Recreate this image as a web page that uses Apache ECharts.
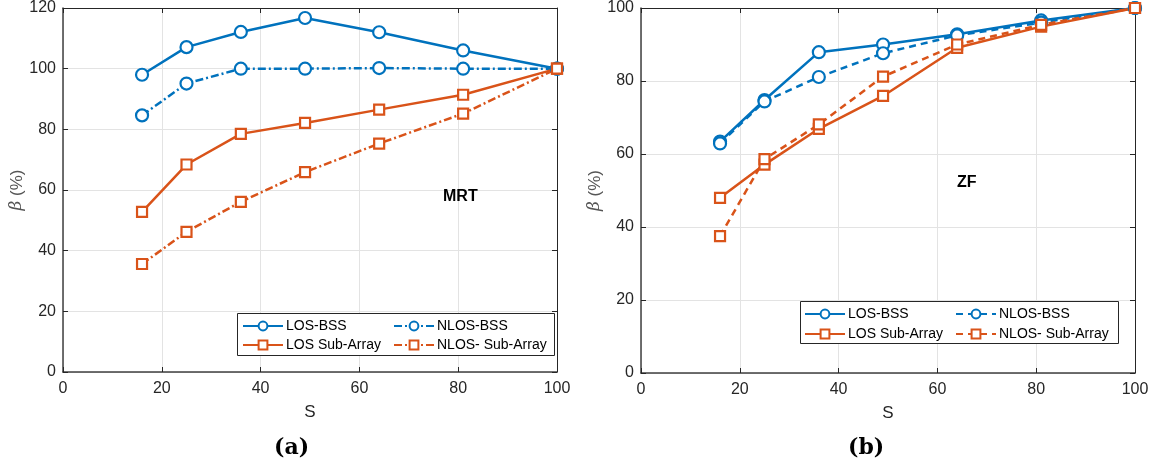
<!DOCTYPE html>
<html><head><meta charset="utf-8">
<script src="https://cdn.jsdelivr.net/npm/echarts@6/dist/echarts.min.js"></script>
<style>html,body{margin:0;padding:0;background:#fff}#c{width:1154px;height:468px}</style>
</head><body><div id="c"></div>
<script>
const S = [16, 25, 36, 49, 64, 81, 100];
const seriesNames = ['LOS-BSS', 'NLOS-BSS', 'LOS Sub-Array', 'NLOS- Sub-Array'];
// (a) MRT
const mrtLosBss   = [98, 107.1, 112.1, 116.7, 112, 106, 100];
const mrtNlosBss  = [84.6, 95.1, 100, 100, 100.2, 100, 100];
const mrtLosSub   = [52.8, 68.4, 78.5, 82.1, 86.5, 91.4, 100];
const mrtNlosSub  = [35.6, 46.2, 56.1, 65.9, 75.3, 85.2, 100];
// (b) ZF
const zfLosBss    = [63.4, 74.8, 87.9, 90.0, 92.8, 96.6, 100];
const zfNlosBss   = [62.9, 74.4, 81.1, 87.6, 92.5, 96.0, 100];
const zfLosSub    = [48.0, 57.1, 66.9, 75.9, 89.1, 94.9, 100];
const zfNlosSub   = [37.5, 58.6, 68.1, 81.2, 90.0, 95.4, 100];
const xTicks = [0, 20, 40, 60, 80, 100];
const yTicksA = [0, 20, 40, 60, 80, 100, 120];
const yTicksB = [0, 20, 40, 60, 80, 100];

const BLUE = '#0072BD', ORANGE = '#D95319';
const AX = '#262626';
const FONT = 'Liberation Sans, Arial, sans-serif';
const DASHDOT = [8, 3, 2, 3];
const DASHED = [7, 5];

function pts(v) { return S.map((x, i) => [x, v[i]]); }

function mkSeries(name, vals, color, symbol, dash, gi) {
  return {
    name, type: 'line', data: pts(vals),
    xAxisIndex: gi * 2, yAxisIndex: gi * 2,
    symbol, symbolSize: symbol === 'circle' ? 12 : 10,
    showSymbol: true,
    lineStyle: { color, width: 2.5, type: dash || 'solid' },
    itemStyle: { color: '#fff', borderColor: color, borderWidth: 2.2 },
    emphasis: { disabled: true },
    animation: false
  };
}

function xAx(gi, top) {
  return {
    type: 'value', gridIndex: gi, min: 0, max: 100, interval: 20,
    position: top ? 'top' : 'bottom',
    name: top ? '' : 'S', nameLocation: 'middle', nameGap: 32,
    nameTextStyle: { fontFamily: FONT, fontSize: 17, color: AX },
    axisLine: { show: true, onZero: false, lineStyle: { color: top ? AX : '#404040', width: top ? 1 : 1.5 } },
    axisTick: { show: true, inside: true, length: 5, lineStyle: { color: AX } },
    axisLabel: { show: !top, fontFamily: FONT, fontSize: 16, color: AX, margin: 9 },
    splitLine: { show: !top, lineStyle: { color: '#e3e3e3', width: 1 } }
  };
}
function yAx(gi, right, max, gap) {
  return {
    type: 'value', gridIndex: gi, min: 0, max, interval: 20,
    position: right ? 'right' : 'left',
    name: right ? '' : '{b|β} (%)', nameLocation: 'middle', nameGap: gap, nameRotate: 90,
    nameTextStyle: { fontFamily: FONT, fontSize: 17, color: '#555',
      rich: { b: { fontFamily: 'DejaVu Serif, serif', fontStyle: 'italic', fontSize: 17, color: '#555' } } },
    axisLine: { show: true, onZero: false, lineStyle: { color: right ? AX : '#404040', width: right ? 1 : 1.5 } },
    axisTick: { show: true, inside: true, length: 5, lineStyle: { color: AX } },
    axisLabel: { show: !right, fontFamily: FONT, fontSize: 16, color: AX, margin: 7 },
    splitLine: { show: !right, lineStyle: { color: '#e3e3e3', width: 1 } }
  };
}

function legendItem(name, left, top, dash) {
  const d = { name };
  if (dash) d.lineStyle = { type: dash };
  return {
    data: [d], left, top, orient: 'horizontal', z: 100,
    itemWidth: 40, itemHeight: 11, itemGap: 4, selectedMode: false,
    textStyle: { fontFamily: FONT, fontSize: 14, color: '#000', padding: [0, 0, 0, -2] },
    padding: 0
  };
}

const chart = echarts.init(document.getElementById('c'), null, { renderer: 'canvas' });
chart.setOption({
  animation: false,
  backgroundColor: '#fff',
  grid: [
    { left: 63, top: 8, width: 494, height: 364 },
    { left: 641, top: 8, width: 494, height: 365 }
  ],
  xAxis: [xAx(0, false), xAx(0, true), xAx(1, false), xAx(1, true)],
  yAxis: [yAx(0, false, 120, 28), yAx(0, true, 120, 0), yAx(1, false, 100, 30), yAx(1, true, 100, 0)],
  legend: [
    legendItem(seriesNames[0], 242, 319, null),
    legendItem(seriesNames[1], 393, 319, DASHDOT),
    legendItem(seriesNames[2], 242, 338, null),
    legendItem(seriesNames[3], 393, 338, DASHDOT),
    legendItem(seriesNames[0], 804, 307, null),
    legendItem(seriesNames[1], 955, 307, DASHED),
    legendItem(seriesNames[2], 804, 327, null),
    legendItem(seriesNames[3], 955, 327, DASHED)
  ],
  graphic: [
    { type: 'rect', shape: { x: 237.5, y: 313.5, width: 317, height: 42 }, style: { fill: '#fff', stroke: '#262626', lineWidth: 1 }, z: 50, silent: true },
    { type: 'rect', shape: { x: 800.5, y: 301.5, width: 318, height: 42 }, style: { fill: '#fff', stroke: '#262626', lineWidth: 1 }, z: 50, silent: true },
    { type: 'text', left: 443, top: 189, style: { text: 'MRT', font: 'bold 16px ' + FONT, fill: '#000' }, z: 60 },
    { type: 'text', left: 957, top: 175, style: { text: 'ZF', font: 'bold 16px ' + FONT, fill: '#000' }, z: 60 },
    { type: 'text', left: 274, top: 437, style: { text: '(a)', font: 'bold 22px DejaVu Serif, serif', fill: '#000' }, z: 60 },
    { type: 'text', left: 848, top: 437, style: { text: '(b)', font: 'bold 22px DejaVu Serif, serif', fill: '#000' }, z: 60 }
  ],
  series: [
    mkSeries(seriesNames[0], mrtLosBss, BLUE, 'circle', null, 0),
    mkSeries(seriesNames[1], mrtNlosBss, BLUE, 'circle', DASHDOT, 0),
    mkSeries(seriesNames[2], mrtLosSub, ORANGE, 'rect', null, 0),
    mkSeries(seriesNames[3], mrtNlosSub, ORANGE, 'rect', DASHDOT, 0),
    mkSeries(seriesNames[0], zfLosBss, BLUE, 'circle', null, 1),
    mkSeries(seriesNames[1], zfNlosBss, BLUE, 'circle', DASHED, 1),
    mkSeries(seriesNames[2], zfLosSub, ORANGE, 'rect', null, 1),
    mkSeries(seriesNames[3], zfNlosSub, ORANGE, 'rect', DASHED, 1)
  ]
});
</script></body></html>
